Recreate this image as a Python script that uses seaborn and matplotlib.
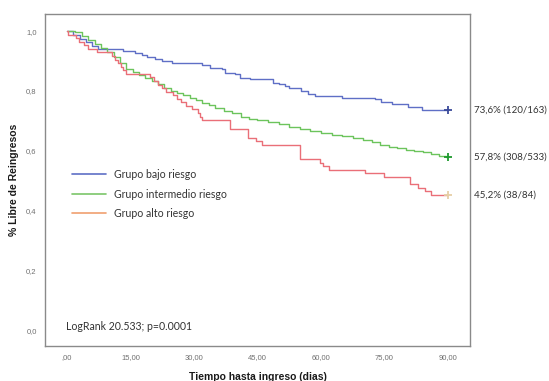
import matplotlib
matplotlib.use("Agg")
import matplotlib.pyplot as plt
from matplotlib.lines import Line2D
from matplotlib.transforms import blended_transform_factory
import pandas as pd
import seaborn as sns

# Kaplan-Meier step curves: event times (days) and survival after each step
bajo_t = [0, 1.5, 3, 4.5, 6, 7.4, 13.2, 16, 17.6, 19, 20.8, 22.5, 24.7, 31.8, 33.8,
          36.5, 37.3, 39.7, 40.9, 43.2, 48.7, 50, 51.5, 52.5, 55.3, 56.9, 58.6, 64.9,
          72.8, 74.3, 76.7, 80.5, 83.8, 90]
bajo_s = [1.0, 0.988, 0.975, 0.963, 0.951, 0.939, 0.933, 0.926, 0.920, 0.914, 0.908,
          0.900, 0.894, 0.887, 0.878, 0.872, 0.861, 0.856, 0.844, 0.839, 0.828, 0.822,
          0.816, 0.810, 0.800, 0.789, 0.783, 0.778, 0.772, 0.764, 0.756, 0.747, 0.736,
          0.736]

inter_t = [0, 2, 3.5, 5, 6.5, 8, 9.5, 11, 12.5, 14, 15.5, 17, 18.5, 20, 21.5, 23,
           24.5, 26, 27.5, 29, 30.5, 32, 33.5, 35, 37, 39, 41, 43, 45, 47.5, 50, 52.5,
           55, 57.5, 60, 62.5, 65, 67.5, 70, 72, 74, 76, 78, 80, 82, 84, 86, 88, 89.5,
           90]
inter_s = [1.0, 0.996, 0.985, 0.972, 0.958, 0.945, 0.930, 0.912, 0.893, 0.875, 0.862,
           0.852, 0.843, 0.833, 0.822, 0.811, 0.801, 0.793, 0.786, 0.777, 0.768, 0.760,
           0.752, 0.742, 0.733, 0.725, 0.714, 0.707, 0.702, 0.695, 0.688, 0.680, 0.673,
           0.665, 0.659, 0.654, 0.648, 0.642, 0.636, 0.628, 0.619, 0.613, 0.609, 0.604,
           0.600, 0.595, 0.590, 0.584, 0.578, 0.578]

alto_t = [0, 0.3, 2.2, 2.8, 4, 5, 7, 10.7, 11.3, 12, 12.7, 13.3, 14, 19.5, 20.5, 21.5,
          22.5, 23.5, 25, 26, 27, 28.2, 29.5, 30.9, 31.5, 31.8, 38.5, 42.7, 44.6, 46,
          55, 59.8, 60.5, 62, 70.4, 75, 81, 83, 84.6, 86, 90]
alto_s = [1.0, 0.988, 0.976, 0.964, 0.952, 0.940, 0.929, 0.917, 0.905, 0.893, 0.881,
          0.869, 0.857, 0.845, 0.833, 0.821, 0.810, 0.798, 0.786, 0.774, 0.762, 0.750,
          0.738, 0.726, 0.714, 0.702, 0.673, 0.643, 0.631, 0.619, 0.571, 0.560, 0.548,
          0.536, 0.524, 0.512, 0.488, 0.476, 0.464, 0.452, 0.452]

groups = ["Grupo bajo riesgo", "Grupo intermedio riesgo", "Grupo alto riesgo"]
end_labels = ["73,6% (120/163)", "57,8% (308/533)", "45,2% (38/84)"]
x_ticks = [0, 15, 30, 45, 60, 75, 90]
x_tick_labels = [",00", "15,00", "30,00", "45,00", "60,00", "75,00", "90,00"]
y_ticks = [0.0, 0.2, 0.4, 0.6, 0.8, 1.0]
y_tick_labels = ["0,0", "0,2", "0,4", "0,6", "0,8", "1,0"]

curve_colors = ["#5f6fc6", "#6cc45c", "#ea6f78"]
legend_colors = ["#5f6fc6", "#7cc66a", "#f0a070"]
censor_colors = ["#3a4a9a", "#1f9a2e", "#e6cfa6"]

sns.set_style("white")
plt.rcParams["font.family"] = ["Liberation Sans", "DejaVu Sans"]

fig = plt.figure(figsize=(5.49, 3.81), dpi=100)
ax = fig.add_axes([0.082, 0.092, 0.774, 0.871])

series = [(bajo_t, bajo_s), (inter_t, inter_s), (alto_t, alto_s)]
for (t, s), name, c, cc in zip(series, groups, curve_colors, censor_colors):
    df = pd.DataFrame({"tiempo": t, "surv": s})
    sns.lineplot(data=df, x="tiempo", y="surv", drawstyle="steps-post",
                 color=c, linewidth=1.0, ax=ax, legend=False)
    ax.plot([t[-1]], [s[-1]], marker="+", color=cc, markersize=6,
            markeredgewidth=1.3, linestyle="none")

ax.set_xlim(-5.2, 95.2)
ax.set_ylim(-0.053, 1.057)
ax.set_xticks(x_ticks)
ax.set_xticklabels(x_tick_labels)
ax.set_yticks(y_ticks)
ax.set_yticklabels(y_tick_labels)
ax.tick_params(axis="both", direction="out", length=3, width=0.8,
               colors="#707070", labelsize=5.5, pad=3)

for sp in ax.spines.values():
    sp.set_color("#8a8a8a")
    sp.set_linewidth(1.0)

ax.set_xlabel("Tiempo hasta ingreso (dias)", fontsize=7.5, fontweight="bold",
              color="#1a1a1a", labelpad=8)
ax.set_ylabel("% Libre de Reingresos", fontsize=7.5, fontweight="bold",
              color="#1a1a1a", labelpad=5)

handles = [Line2D([0], [0], color=c, linewidth=1.2) for c in legend_colors]
leg = ax.legend(handles, groups, loc="upper left", bbox_to_anchor=(0.064, 0.533),
                frameon=False, borderpad=0, borderaxespad=0, handlelength=3.2,
                handletextpad=0.8, labelspacing=0.8,
                prop={"family": "Lato", "size": 7.6})
for txt in leg.get_texts():
    txt.set_color("#333333")

trans = blended_transform_factory(ax.transAxes, ax.transData)
for (t, s), lab in zip(series, end_labels):
    ax.text(1.009, s[-1], lab, transform=trans, ha="left", va="center",
            fontsize=7, family="Lato", color="#333333", clip_on=False)

ax.text(0.049, 0.012, "LogRank 20.533; p=0.0001", transform=trans, ha="left",
        va="center", fontsize=7.6, family="Lato", color="#333333")

fig.savefig("out.png", dpi=100)
